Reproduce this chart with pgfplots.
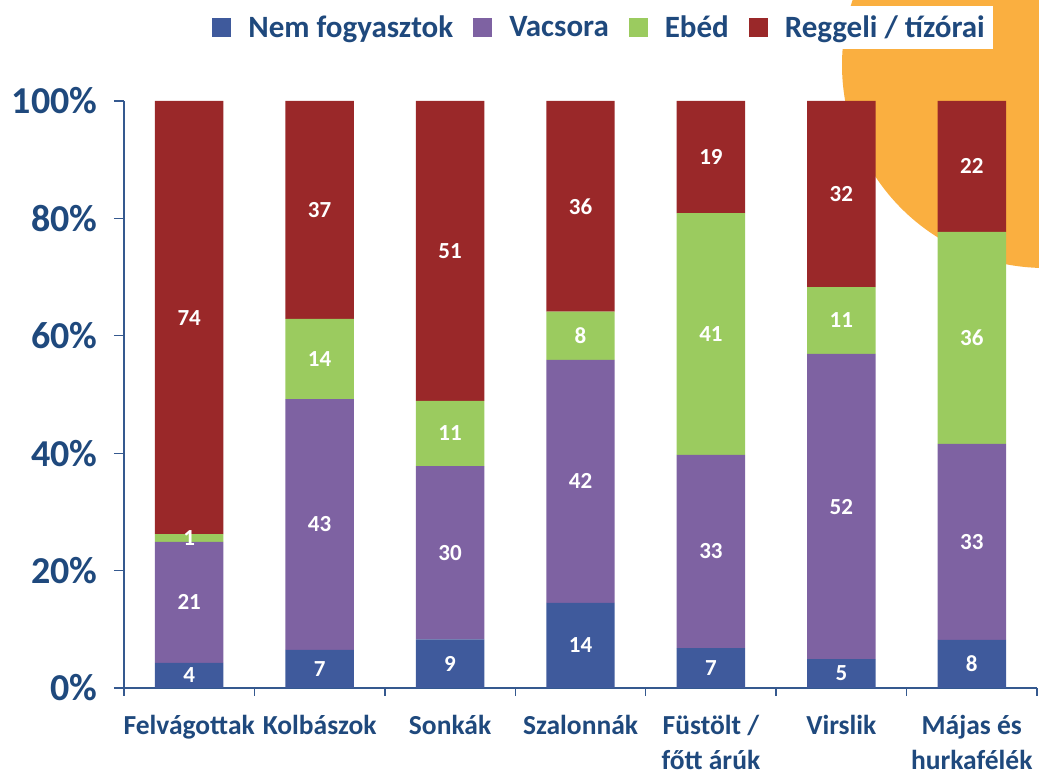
\documentclass[border=0pt]{standalone}
\usepackage{fontspec}
\setmainfont{Carlito}
\usepackage{pgfplots}
\pgfplotsset{compat=1.18}
\usepackage{pgfplotstable}

\definecolor{cblue}{HTML}{3F5A9C}
\definecolor{cpurple}{HTML}{7E62A2}
\definecolor{cgreen}{HTML}{9BCB5F}
\definecolor{cred}{HTML}{9A2829}
\definecolor{ctext}{HTML}{1F497D}
\definecolor{caxis}{HTML}{35598F}
\definecolor{corange}{HTML}{FAAF40}

% shares in %
\pgfplotstableread{
x b    p    g    r
0 4.3  20.6 1.3  73.8
1 6.5  42.7 13.7 37.1
2 8.3  29.5 11.1 51.1
3 14.5 41.4 8.2  35.9
4 6.8  32.9 41.2 19.1
5 4.9  52.0 11.4 31.7
6 8.2  33.4 36.1 22.3
}\data

% printed labels and the middle of each segment
\pgfplotstableread{
x mb   lb mp    lp mg    lg mr    lr
0 2.15 4  14.6  21 25.55 1  63.1  74
1 3.25 7  27.85 43 56.05 14 81.45 37
2 4.15 9  23.05 30 43.35 11 74.45 51
3 7.25 14 35.2  42 60.0  8  82.05 36
4 3.4  7  23.25 33 60.3  41 90.45 19
5 2.45 5  30.9  52 62.6  11 84.15 32
6 4.1  8  24.9  33 59.65 36 88.85 22
}\labels

\begin{document}
\begin{tikzpicture}[x=1pt,y=1pt]
\path[use as bounding box] (0,0) rectangle (1039,775);
\fill[corange] (1045,710) circle[radius=203];
\begin{axis}[
    at={(124pt,87pt)}, anchor=south west,
    scale only axis, width=913pt, height=587pt,
    ybar stacked, bar width=0.525,
    xmin=-0.5, xmax=6.5, ymin=0, ymax=100,
    axis lines*=left,
    axis line style={caxis, line width=1.3pt},
    tick style={caxis, line width=1.3pt},
    tick align=outside,
    major tick length=10pt, minor tick length=8pt,
    xtick={0,...,6},
    minor xtick={-0.5,0.5,...,6.5},
    every major x tick/.append style={draw=none},
    xticklabels={Felvágottak, Kolbászok, Sonkák, Szalonnák,
        {Füstölt /\\főtt árúk}, Virslik, {Májas és\\hurkafélék}},
    xticklabel style={font=\fontsize{27.5}{35}\selectfont\bfseries, text=ctext,
        align=center, yshift=-14pt},
    ytick={0,20,...,100},
    yticklabels={0\%,20\%,40\%,60\%,80\%,100\%},
    yticklabel style={font=\fontsize{38}{42}\selectfont\bfseries, text=ctext,
        xshift=-13pt},
    legend columns=-1,
    legend image code/.code={\fill[#1] (0pt,-9.5pt) rectangle (19pt,9.5pt);},
    legend style={at={(0.9518,1.0886)}, anchor=south east, draw=none,
        fill=white, inner xsep=6pt, inner ysep=8pt,
        font=\fontsize{31}{36}\selectfont\bfseries, text=ctext,
        /tikz/every odd column/.append style={column sep=15pt},
        /tikz/every even column/.append style={column sep=18pt}},
]
\addplot[fill=cblue, draw=none] table[x=x, y=b] {\data};
\addplot[fill=cpurple, draw=none] table[x=x, y=p] {\data};
\addplot[fill=cgreen, draw=none] table[x=x, y=g] {\data};
\addplot[fill=cred, draw=none] table[x=x, y=r] {\data};
\legend{Nem fogyasztok, Vacsora, Ebéd, Reggeli / tízórai}
\end{axis}
% value labels, in the middle of each segment
\begin{axis}[
    at={(124pt,87pt)}, anchor=south west,
    scale only axis, width=913pt, height=587pt,
    xmin=-0.5, xmax=6.5, ymin=0, ymax=100,
    hide axis,
    point meta=explicit symbolic,
    nodes near coords, nodes near coords align=center,
    nodes near coords style={font=\fontsize{23}{26}\selectfont\bfseries,
        text=white, anchor=center},
]
\addplot[draw=none, mark=none] table[x=x, y=mb, meta=lb] {\labels};
\addplot[draw=none, mark=none] table[x=x, y=mp, meta=lp] {\labels};
\addplot[draw=none, mark=none] table[x=x, y=mg, meta=lg] {\labels};
\addplot[draw=none, mark=none] table[x=x, y=mr, meta=lr] {\labels};
\end{axis}
\end{tikzpicture}
\end{document}
